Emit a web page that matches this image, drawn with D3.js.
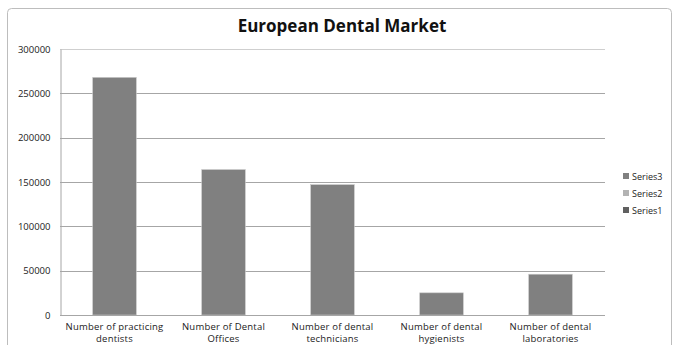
<!DOCTYPE html>
<html>
<head>
<meta charset="utf-8">
<script src="https://cdn.jsdelivr.net/npm/d3@7"></script>
<style>
  body { margin: 0; background: #fff; }
  svg { display: block; }
</style>
</head>
<body>
<div id="chart"></div>
<script>
// chart data
const categories = [
  ['Number of practicing', 'dentists'],
  ['Number of Dental', 'Offices'],
  ['Number of dental', 'technicians'],
  ['Number of dental', 'hygienists'],
  ['Number of dental', 'laboratories']
];
const series3 = [268000, 164000, 147000, 25000, 46000];
const yTicks = [0, 50000, 100000, 150000, 200000, 250000, 300000];
const legendNames = ['Series3', 'Series2', 'Series1'];
const legendColors = ['#808080', '#b3b3b3', '#606060'];

const width = 676, height = 345;
const margin = { top: 49, right: 71, bottom: 30, left: 60 };
const plotW = width - margin.left - margin.right;
const plotH = height - margin.top - margin.bottom;

const svg = d3.select('#chart').append('svg')
  .attr('width', width)
  .attr('height', height);

// outer frame
svg.append('rect')
  .attr('x', 7.5).attr('y', 8.5)
  .attr('width', 664).attr('height', 345)
  .attr('rx', 4)
  .attr('fill', 'none')
  .attr('stroke', '#bdbdbd');

svg.append('text')
  .attr('x', 342).attr('y', 32)
  .attr('text-anchor', 'middle')
  .attr('font-family', 'Open Sans, sans-serif')
  .attr('font-weight', 'bold')
  .attr('font-size', 17)
  .attr('fill', '#111')
  .text('European Dental Market');

const g = svg.append('g')
  .attr('transform', 'translate(' + margin.left + ',' + margin.top + ')');

const y = d3.scaleLinear().domain([0, 300000]).range([plotH, 0]);
const x = d3.scaleBand()
  .domain(d3.range(categories.length))
  .range([0, plotW])
  .padding(0);

// gridlines
g.append('g')
  .selectAll('line')
  .data(yTicks.slice(1))
  .enter().append('line')
  .attr('x1', 0).attr('x2', plotW)
  .attr('y1', d => Math.round(y(d)) + 0.5)
  .attr('y2', d => Math.round(y(d)) + 0.5)
  .attr('stroke', d => d === 300000 ? '#cfcfcf' : '#a6a6a6');

// y axis
const yAxis = g.append('g')
  .attr('transform', 'translate(0.5,0)')
  .call(d3.axisLeft(y).tickValues(yTicks).tickSize(0).tickPadding(10).tickFormat(d3.format('d')));
yAxis.select('.domain').attr('stroke', '#a6a6a6');
yAxis.selectAll('text')
  .attr('font-family', 'Open Sans, sans-serif')
  .attr('font-size', 9.5)
  .attr('fill', '#222');

// bars
const barW = x.bandwidth() * 0.4;
g.append('g')
  .selectAll('rect')
  .data(series3)
  .enter().append('rect')
  .attr('x', (d, i) => x(i) + (x.bandwidth() - barW) / 2)
  .attr('y', d => y(d))
  .attr('width', barW)
  .attr('height', d => plotH - y(d))
  .attr('fill', '#808080')
  .attr('stroke', '#c8c8c8')
  .attr('stroke-width', 0.6);

// x axis line
g.append('line')
  .attr('x1', 0).attr('x2', plotW)
  .attr('y1', plotH + 0.5).attr('y2', plotH + 0.5)
  .attr('stroke', '#a6a6a6');

// x labels
const xl = g.append('g')
  .selectAll('text')
  .data(categories)
  .enter().append('text')
  .attr('x', (d, i) => x(i) + x.bandwidth() / 2)
  .attr('y', plotH + 15)
  .attr('text-anchor', 'middle')
  .attr('font-family', 'Open Sans, sans-serif')
  .attr('font-size', 9.5)
  .attr('letter-spacing', 0.2)
  .attr('fill', '#222');
xl.each(function (d) {
  const t = d3.select(this);
  d.forEach((line, k) => {
    t.append('tspan')
      .attr('x', t.attr('x'))
      .attr('dy', k === 0 ? 0 : 12)
      .text(line);
  });
});

// legend
const legend = svg.append('g').attr('transform', 'translate(623,173)');
legend.selectAll('g')
  .data(legendNames)
  .enter().append('g')
  .attr('transform', (d, i) => 'translate(0,' + i * 17 + ')')
  .each(function (d, i) {
    const lg = d3.select(this);
    lg.append('rect')
      .attr('width', 6).attr('height', 6)
      .attr('fill', legendColors[i]);
    lg.append('text')
      .attr('x', 9).attr('y', 6.5)
      .attr('font-family', 'Open Sans, sans-serif')
      .attr('font-size', 9)
      .attr('fill', '#222')
      .text(d);
  });
</script>
</body>
</html>
